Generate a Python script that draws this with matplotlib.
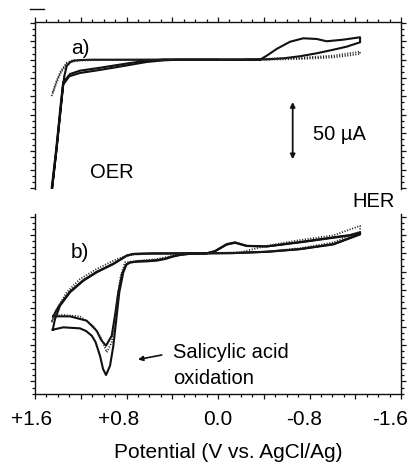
import matplotlib
matplotlib.use("Agg")
import numpy as np
import matplotlib.pyplot as plt
from matplotlib.ticker import FixedLocator, MultipleLocator, FuncFormatter
from matplotlib.transforms import ScaledTranslation
import matplotlib.lines as mlines

plt.rcParams['font.family'] = ['Liberation Sans', 'DejaVu Sans']

# ---------------- data: panel a (potential V vs AgCl/Ag, current uA) ----------------
a_cycle1_E = [1.49, 1.451, 1.412, 1.367, 1.345, 1.323, 1.29, 1.265, 1.2, 1.1, 0.6, 0.0, -0.367,
              -0.426, -0.513, -0.63, -0.746, -0.863, -0.95, -1.095, -1.242, -1.242, -1.125,
              -1.008, -0.863, -0.717, -0.571, -0.426, -0.2, 0.3, 0.478, 0.623, 0.769, 0.915,
              1.061, 1.207, 1.294, 1.353, 1.367, 1.412, 1.451, 1.49]
a_cycle1_I = [-140, -113, -78.4, -34.4, -15.0, -5.5, -2.0, -0.9, -0.3, 0, 0, 0, 0,
              3.5, 9.4, 15.7, 18.7, 18.1, 16.1, 17.5, 19.6, 15.2, 11.4,
              8.7, 5.6, 3.0, 1.2, 0.3, 0, 0, 0, -0.9, -2.9, -5.2,
              -7.5, -9.6, -12.5, -19.8, -34.4, -78.4, -113, -140]
a_cycle2_E = [1.49, 1.455, 1.415, 1.372, 1.356, 1.30, 1.207, 1.061, 0.915, 0.769, 0.623, 0.478, 0.35, 0.0]
a_cycle2_I = [-140, -113, -78.4, -36.0, -22.0, -14.5, -11.6, -9.4, -7.0, -4.5, -2.0, -0.6, 0, 0]
a_dot_E = [1.454, 1.416, 1.381, 1.323, 1.268, 1.207, 1.0, 0.5, 0.0, -0.367, -0.717, -1.008, -1.242,
           -1.242, -1.008, -0.717, -0.426, 0.0, 0.5, 1.0, 1.2, 1.27, 1.32, 1.37, 1.41, 1.45]
a_dot_I = [-31.8, -21.2, -12.5, -3.8, -1.6, -0.7, -0.3, 0, 0, 0.6, 1.7, 3.5, 7.0,
           5.0, 2.0, 0.6, 0, 0, 0, -0.2, -0.2, -0.5, -2.5, -9.0, -18.0, -30.0]

# ---------------- data: panel b ----------------
b_outer_E = [1.445, 1.425, 1.381, 1.294, 1.178, 1.061, 0.915, 0.798, 0.741, 0.595, 0.3, 0.099,
             0.026, -0.076, -0.149, -0.251, -0.426, -0.717, -1.008, -1.154, -1.242, -1.242,
             -1.008, -0.717, -0.426, -0.135, 0.157, 0.25, 0.33, 0.40, 0.46, 0.53, 0.62, 0.70,
             0.769, 0.80, 0.828, 0.863, 0.892, 0.915, 0.944, 0.979, 1.005, 1.032, 1.071, 1.104,
             1.154, 1.207, 1.353, 1.445]
b_outer_I = [-66.8, -57.4, -45.8, -34.1, -24.0, -16.6, -9.4, -2.1, -0.6, -0.2, 0, 0,
             2.0, 8.1, 9.6, 6.6, 6.1, 9.9, 14.0, 16.0, 18.4, 16.9,
             8.1, 3.8, 1.4, 0.3, 0, -0.5, -1.4, -3.0, -4.9, -6.3, -7.0, -7.3,
             -7.9, -9.5, -16.6, -34.1, -60.3, -80.8, -98.3, -106.4, -101.1, -89.5, -77.5, -72.0,
             -67.9, -65.6, -64.7, -66.8]
b_inner_E = [1.44, 1.42, 1.38, 1.294, 1.178, 1.061, 0.915, 0.798, 0.74, 0.6, 0.3, 0.1,
             0.026, -0.076, -0.149, -0.251, -0.426, -0.717, -1.008, -1.154, -1.242, -1.242,
             -1.008, -0.717, -0.426, -0.135, 0.157, 0.25, 0.33, 0.40, 0.46, 0.53, 0.62, 0.70,
             0.769, 0.804, 0.839, 0.872, 0.901, 0.929, 0.979, 1.02, 1.061, 1.148, 1.294, 1.44]
b_inner_I = [-55.1, -51.0, -44.5, -33.4, -23.5, -16.2, -9.0, -1.9, -0.5, -0.1, 0, 0,
             1.8, 7.6, 9.2, 6.4, 6.0, 9.6, 13.6, 15.6, 17.8, 16.5,
             7.8, 3.6, 1.3, 0.2, 0, -0.4, -1.2, -2.7, -4.5, -5.8, -6.5, -6.9,
             -8.0, -10.2, -18.1, -34.1, -54.5, -72.0, -80.8, -76.0, -67.7, -58.9, -55.1, -55.1]
b_dot_E = [1.454, 1.41, 1.323, 1.207, 1.061, 0.886, 0.769, 0.595, 0.3, 0.1, -0.2, -0.426, -0.717,
           -1.008, -1.242, -1.242, -1.008, -0.717, -0.426, -0.1, 0.2, 0.3, 0.38, 0.45, 0.55, 0.7,
           0.813, 0.851, 0.88, 0.901, 0.929, 0.973, 1.017, 1.09, 1.207, 1.353, 1.44, 1.454]
b_dot_I = [-60.3, -48.7, -34.1, -22.5, -13.7, -5.0, -1.5, -0.2, 0, 0, 1.0, 6.6, 11.6,
           15.7, 24.0, 19.0, 9.5, 4.5, 1.5, 0, 0, -0.6, -1.6, -3.2, -5.3, -6.5,
           -7.9, -19.6, -39.9, -60.3, -77.8, -86.5, -74.9, -63.3, -55.1, -53.9, -54.5, -60.3]

x_tick_values = [1.6, 1.2, 0.8, 0.4, 0.0, -0.4, -0.8, -1.2, -1.6]
x_tick_labels = {1.6: '+1.6', 0.8: '+0.8', 0.0: '0.0', -0.8: '-0.8', -1.6: '-1.6'}
scale_bar_uA = 50

# ---------------- figure ----------------
W, H = 409, 464
fig = plt.figure(figsize=(W / 100, H / 100), dpi=100)

def frac(x0, y0, x1, y1):
    return [x0 / W, 1 - y1 / H, (x1 - x0) / W, (y1 - y0) / H]

axa = fig.add_axes(frac(35, 22.7, 401, 190))
axb = fig.add_axes(frac(35, 215, 401, 395))

solid_kw = dict(color='#111111', lw=1.5, solid_joinstyle='round')
dot_kw = dict(color='#222222', lw=1.3, linestyle=(0, (0.6, 0.9)))

axa.plot(a_cycle1_E, a_cycle1_I, **solid_kw)
axa.plot(a_cycle2_E, a_cycle2_I, **solid_kw)
axa.plot(a_dot_E, a_dot_I, **dot_kw)

axb.plot(b_outer_E, b_outer_I, **solid_kw)
axb.plot(b_inner_E, b_inner_I, **solid_kw)
axb.plot(b_dot_E, b_dot_I, **dot_kw)

axa.set_ylim(-113, 33.2)
axb.set_ylim(-123, 34.4)

for ax in (axa, axb):
    ax.set_xlim(1.6, -1.6)
    ax.xaxis.set_major_locator(FixedLocator(x_tick_values))
    ax.xaxis.set_minor_locator(MultipleLocator(0.1))
    ax.yaxis.set_major_locator(FixedLocator(np.arange(-128, 40, 16)))
    ax.yaxis.set_minor_locator(MultipleLocator(16 / 3))
    for s in ax.spines.values():
        s.set_linewidth(1.0)
        s.set_color('#111111')
    ax.tick_params(which='both', direction='out', color='#111111', width=0.9,
                   left=True, right=True, labelleft=False, labelright=False)
    ax.tick_params(which='major', length=3.5)
    ax.tick_params(which='minor', length=2)

axa.spines['bottom'].set_visible(False)
axa.tick_params(which='both', bottom=False, top=True, labelbottom=False, labeltop=False)
axb.spines['top'].set_visible(False)
axb.tick_params(which='both', bottom=True, top=False, labelbottom=True)
axb.xaxis.set_major_formatter(FuncFormatter(
    lambda v, p: x_tick_labels.get(round(v, 1), '')))
axb.tick_params(axis='x', which='major', labelsize=15, pad=7)

fig.canvas.draw()
shifts = {'+1.6': -3, '+0.8': -8, '0.0': 0, '-0.8': -5, '-1.6': -11}
for lab in axb.get_xticklabels():
    t = lab.get_text()
    if t in shifts:
        lab.set_transform(lab.get_transform() + ScaledTranslation(shifts[t] / 100, 0, fig.dpi_scale_trans))

# scale bar arrow (50 uA) in panel a
bar_x = -0.653
bar_top = -37.0
axa.annotate('', xy=(bar_x, bar_top - scale_bar_uA), xytext=(bar_x, bar_top),
             arrowprops=dict(arrowstyle='<|-|>', color='#111111', lw=1.3,
                             mutation_scale=7, shrinkA=0, shrinkB=0))

def ftext(x, y, s, **kw):
    fig.text(x / W, 1 - y / H, s, **kw)

fs = 14.5
ftext(71, 48, 'a)', fontsize=15, va='center', ha='left')
ftext(71, 252, 'b)', fontsize=15, va='center', ha='left')
ftext(313, 135, '50 µA', fontsize=fs, va='center', ha='left')
ftext(90, 173, 'OER', fontsize=fs, va='center', ha='left')
ftext(352, 201.5, 'HER', fontsize=fs, va='center', ha='left')
ftext(173, 353, 'Salicylic acid', fontsize=fs, va='center', ha='left')
ftext(173, 378, 'oxidation', fontsize=fs, va='center', ha='left')
ftext(228, 453, 'Potential (V vs. AgCl/Ag)', fontsize=15, va='center', ha='center')

# arrow pointing to oxidation peak
fig.add_artist(matplotlib.patches.FancyArrowPatch(
    (161.7 / W, 1 - 356 / H), (138 / W, 1 - 360.5 / H), transform=fig.transFigure,
    arrowstyle='-|>', mutation_scale=7, color='#111111', lw=1.2, shrinkA=0, shrinkB=0))

# small dash at top-left corner
fig.add_artist(mlines.Line2D([30 / W, 44 / W], [1 - 10 / H, 1 - 10 / H],
                             transform=fig.transFigure, color='#111111', lw=1.0))

fig.savefig('out.png', dpi=100)
